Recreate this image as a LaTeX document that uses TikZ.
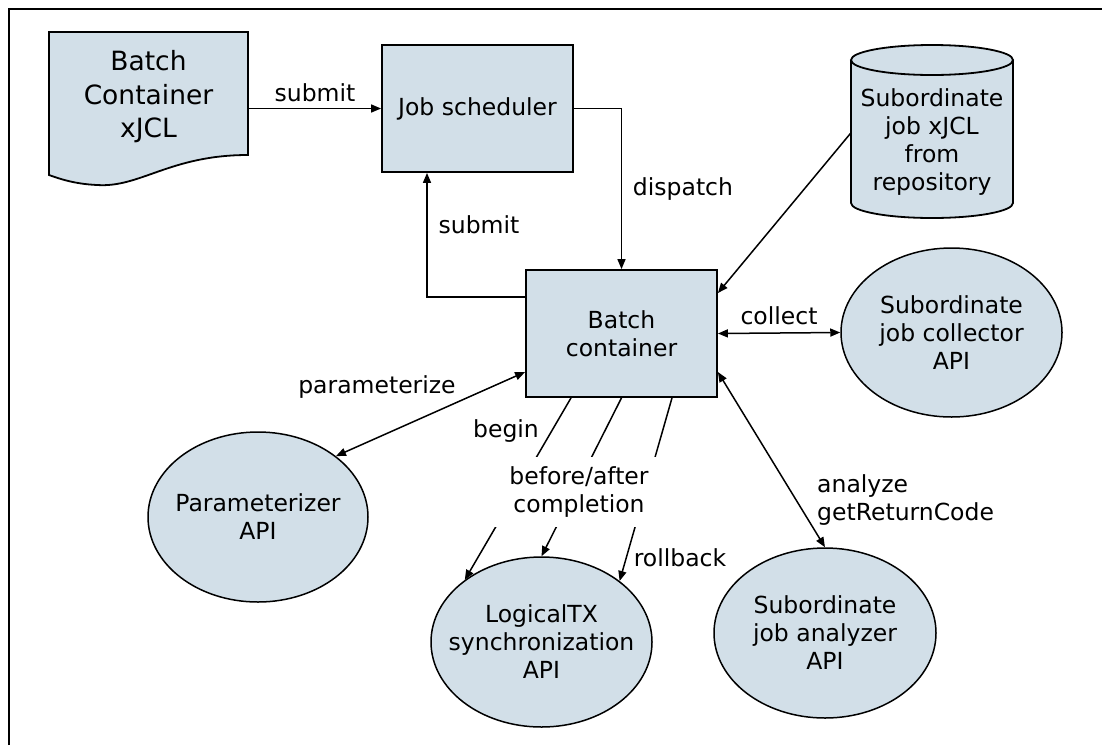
\documentclass[tikz,border=0pt]{standalone}
\usepackage{fontspec}
\setmainfont{DejaVu Sans}
\usetikzlibrary{arrows.meta,shapes.geometric,calc}
\definecolor{boxfill}{RGB}{210,223,232}
\tikzset{
  x=1pt,y=1pt,
  txt/.style={font=\fontsize{23.5}{28}\selectfont, align=center, inner sep=0pt},
  bigtxt/.style={font=\fontsize{26.5}{33.5}\selectfont, align=center, inner sep=0pt},
  rectbox/.style={draw, line width=1.8pt, fill=boxfill, minimum width=191pt, minimum height=127pt, txt},
  ellbox/.style={ellipse, draw, line width=1.5pt, fill=boxfill, txt, inner xsep=-30pt, inner ysep=0pt},
  conn/.style={line width=1.5pt, -{Triangle[length=10pt,width=8pt]}},
  dconn/.style={line width=1.5pt, {Triangle[length=10pt,width=8pt]}-{Triangle[length=10pt,width=8pt]}},
  lbl/.style={txt}
}
\begin{document}
\begin{tikzpicture}
\useasboundingbox (0,0) rectangle (1102,-745);
% frame (top and left only)
\draw[line width=1.6pt] (9,-745) -- (9,-9) -- (1102,-9);

% document shape
\filldraw[line width=1.8pt, fill=boxfill] (49,-32) -- (248,-32) -- (248,-155)
  .. controls (170,-155) and (140,-188) .. (97,-185)
  .. controls (75,-184) and (60,-179) .. (49,-175) -- cycle;
\node[bigtxt, minimum width=199pt, minimum height=123pt] (doc) at (148.5,-97) {Batch\\Container\\xJCL};

% job scheduler
\node[rectbox] (job) at (477.5,-108.5) {Job scheduler};

% batch container
\node[rectbox] (batch) at (621.5,-333.5) {Batch\\container};

% cylinder repository
\fill[boxfill] (851,-60) -- (851,-203) arc[start angle=180,end angle=360,x radius=81,y radius=15]
  -- (1013,-60) arc[start angle=0,end angle=180,x radius=81,y radius=15] -- cycle;
\draw[line width=1.8pt] (851,-60) -- (851,-203) arc[start angle=180,end angle=360,x radius=81,y radius=15] -- (1013,-60);
\draw[line width=1.8pt] (932,-60) ellipse[x radius=81,y radius=15];
\node[txt, minimum width=162pt] (repo) at (932,-142.5) {Subordinate\\job xJCL\\from\\repository};

% ellipses
\node[ellbox, minimum width=221pt, minimum height=169pt] (coll) at (951.5,-332.5) {Subordinate\\job collector\\API};
\node[ellbox, minimum width=220pt, minimum height=170pt] (param) at (258,-517) {Parameterizer\\API};
\node[ellbox, minimum width=221pt, minimum height=170pt] (ltx) at (541.5,-642) {LogicalTX\\synchronization\\API};
\node[ellbox, minimum width=222pt, minimum height=170pt] (anal) at (825,-633) {Subordinate\\job analyzer\\API};

% connectors
\draw[conn] (doc.east |- job.west) -- (job.west);
\node[lbl] (lsubmit1) at (315,-93) {submit};

\draw[conn] (job.east) -| (batch.north);
\node[lbl] (ldispatch) at (683,-189) {dispatch};

\draw[conn] ([yshift=36.5pt]batch.west) -| ([xshift=-50.5pt]job.south);
\node[lbl] (lsubmit2) at (479,-225) {submit};

\draw[conn] ([yshift=9.5pt]repo.west) -- ([yshift=40.5pt]batch.east);

\draw[dconn] (batch.east) -- (coll.west);
\node[lbl] (lcollect) at (779,-316) {collect};

\draw[dconn] ([yshift=-38.5pt]batch.west) -- (param.38);
\node[lbl] (lparam) at (377,-387) {parameterize};

\draw[dconn] ([yshift=-38.5pt]batch.east) -- (anal.north);
\node[lbl, anchor=west, align=left] (lanal) at (817,-500) {analyze\\getReturnCode};

\draw[conn] ([xshift=-50.5pt]batch.south) -- (ltx.141);
\draw[conn] (batch.south) -- (ltx.north);
\draw[conn] ([xshift=50.5pt]batch.south) -- (ltx.38);
\node[lbl, fill=white, minimum width=176pt, minimum height=70pt] (lbefore) at (579,-492) {before/after\\completion};
\node[lbl] (lbegin) at (506,-431) {begin};
\node[lbl] (lrollback) at (680,-558) {rollback};
\end{tikzpicture}
\end{document}
